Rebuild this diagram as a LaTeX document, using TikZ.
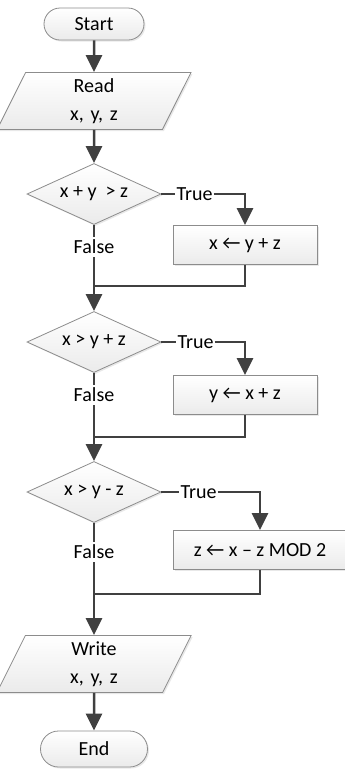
\documentclass[tikz,border=0pt]{standalone}
\usepackage{fontspec}
\setmainfont{Carlito}
\usepackage{tikz}
\usetikzlibrary{shapes.geometric}
\usetikzlibrary{shapes.misc}
\usetikzlibrary{shadows}
\usetikzlibrary{arrows.meta}

\definecolor{linegray}{HTML}{404040}
\definecolor{boxgray}{HTML}{8C8C8C}

\begin{document}
\begin{tikzpicture}[x=1pt,y=-1pt,
  every node/.style={font=\fontsize{20}{28}\selectfont,text=black},
  box/.style={draw=boxgray,line width=\lwbox,top color=white,bottom color=black!8,
    drop shadow={opacity=0.18,shadow xshift=1.5pt,shadow yshift=-1.5pt}},
  term/.style={box,rounded rectangle,minimum width=100pt,minimum height=32pt,inner sep=0pt},
  io/.style={box,trapezium,trapezium left angle=63.4,trapezium right angle=116.6,
    text width=114pt,minimum height=57pt,inner sep=2pt,align=center},
  act/.style={box,rectangle,minimum width=144pt,minimum height=39pt},
  test/.style={box,diamond,aspect=2.2,minimum width=134pt,minimum height=61pt,inner sep=0pt},
  lbl/.style={fill=white,inner xsep=1pt,inner ysep=3pt}]

\def\lw{2.5pt}
\def\lwbox{0.8pt}
\tikzset{flow/.style={color=linegray,line width=\lw,-{Triangle[length=17pt,width=16pt]}},
         link/.style={color=linegray,line width=\lw}}

\useasboundingbox (0,0) rectangle (345,769);

\node[term] (start) at (94,24) {Start};
\node[io]   (read)  at (94,101) {Read\\x, y, z};
\node[test] (d1)    at (94,194) {x + y\ \ > z};
\node[act]  (a1)    at (245,245) {x ← y + z};
\node[test] (d2)    at (94,342) {x > y + z};
\node[act]  (a2)    at (245,395) {y ← x + z};
\node[test] (d3)    at (94,492) {x > y - z};
\node[act,minimum width=174pt] (a3) at (260,550) {z ← x – z MOD 2};
\node[io]   (write) at (94,664) {Write\\x, y, z};
\node[term,minimum width=107pt,minimum height=36pt] (end) at (94,749) {End};

% branch labels
\node[lbl] (t1) at (194.5,194) {True};
\node[lbl] (t2) at (195.5,342) {True};
\node[lbl] (t3) at (198.5,492) {True};
\node[lbl] (f1) at (94,247) {False};
\node[lbl] (f2) at (94,395) {False};
\node[lbl] (f3) at (94,552) {False};

\coordinate (j1) at (94,286);
\coordinate (j2) at (94,437);
\coordinate (j3) at (94,594);

\draw[flow] (start) -- (read);
\draw[flow] (read) -- (d1);

\draw[link] (d1.east) -- (t1);
\draw[flow] (t1) -| (a1);
\draw[link] (d1.south) -- (f1);
\draw[flow] (f1) -- (d2);
\draw[link] (a1.south) |- (j1);

\draw[link] (d2.east) -- (t2);
\draw[flow] (t2) -| (a2);
\draw[link] (d2.south) -- (f2);
\draw[flow] (f2) -- (d3);
\draw[link] (a2.south) |- (j2);

\draw[link] (d3.east) -- (t3);
\draw[flow] (t3) -| (a3);
\draw[link] (d3.south) -- (f3);
\draw[flow] (f3) -- (write);
\draw[link] (a3.south) |- (j3);

\draw[flow] (write) -- (end);

\end{tikzpicture}
\end{document}
